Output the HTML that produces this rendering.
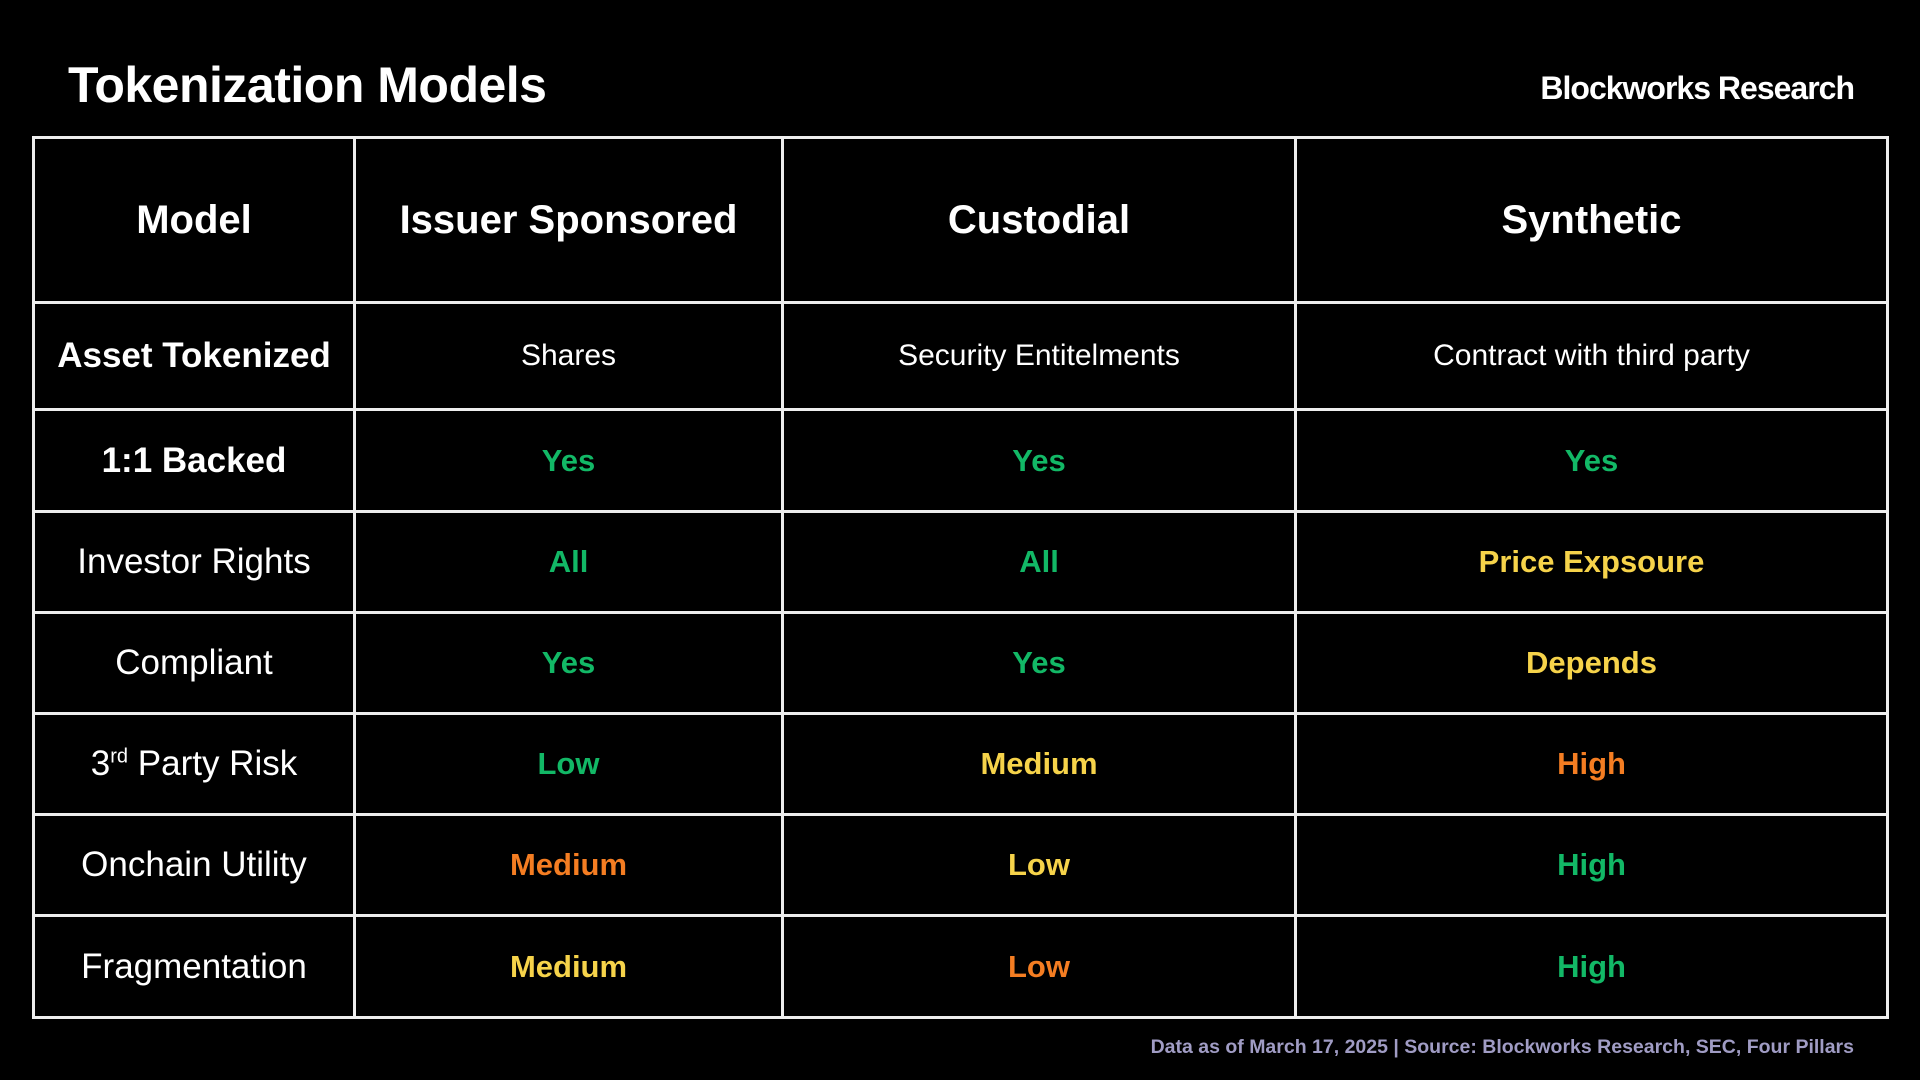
<!DOCTYPE html>
<html><head><meta charset="utf-8"><style>
html,body{margin:0;padding:0;background:#000;width:1920px;height:1080px;overflow:hidden;font-family:"Liberation Sans",sans-serif;color:#fff}
.t{position:absolute;left:68px;top:56px;font-size:50px;font-weight:bold;letter-spacing:-0.5px}
.b{position:absolute;right:66px;top:70px;font-size:32px;font-weight:bold;letter-spacing:-1px}
.f{position:absolute;right:66px;top:1036px;font-size:19.5px;font-weight:bold;color:#a09cc4}
table{position:absolute;left:32px;top:136px;width:1857px;height:883px;border-collapse:collapse;border:3px solid #eee}
td{border:3px solid #eee;text-align:center;font-size:30px;padding:0}
tr.h td{font-size:40px;font-weight:bold;height:162px}
td.l{font-size:35px;font-weight:bold;width:318px}
td.c1{width:425px}td.c2{width:510px}
.g{color:#12b866}.y{color:#f6d34a}.o{color:#f47d22}
td.v{font-size:31px;font-weight:bold}
</style></head><body>
<div class="t">Tokenization Models</div>
<div class="b">Blockworks Research</div>
<table>
<tr class="h"><td class="l" style="font-size:40px">Model</td><td class="c1">Issuer Sponsored</td><td class="c2">Custodial</td><td>Synthetic</td></tr>
<tr style="height:107px"><td class="l">Asset Tokenized</td><td>Shares</td><td>Security Entitelments</td><td>Contract with third party</td></tr>
<tr style="height:102px"><td class="l">1:1 Backed</td><td class="v g">Yes</td><td class="v g">Yes</td><td class="v g">Yes</td></tr>
<tr style="height:101px"><td class="l" style="font-weight:normal">Investor Rights</td><td class="v g">All</td><td class="v g">All</td><td class="v y">Price Expsoure</td></tr>
<tr style="height:101px"><td class="l" style="font-weight:normal">Compliant</td><td class="v g">Yes</td><td class="v g">Yes</td><td class="v y">Depends</td></tr>
<tr style="height:101px"><td class="l" style="font-weight:normal">3<sup style="font-size:20px">rd</sup> Party Risk</td><td class="v g">Low</td><td class="v y">Medium</td><td class="v o">High</td></tr>
<tr style="height:101px"><td class="l" style="font-weight:normal">Onchain Utility</td><td class="v o">Medium</td><td class="v y">Low</td><td class="v g">High</td></tr>
<tr><td class="l" style="font-weight:normal">Fragmentation</td><td class="v y">Medium</td><td class="v o">Low</td><td class="v g">High</td></tr>
</table>
<div class="f">Data as of March 17, 2025 | Source: Blockworks Research, SEC, Four Pillars</div>
</body></html>
